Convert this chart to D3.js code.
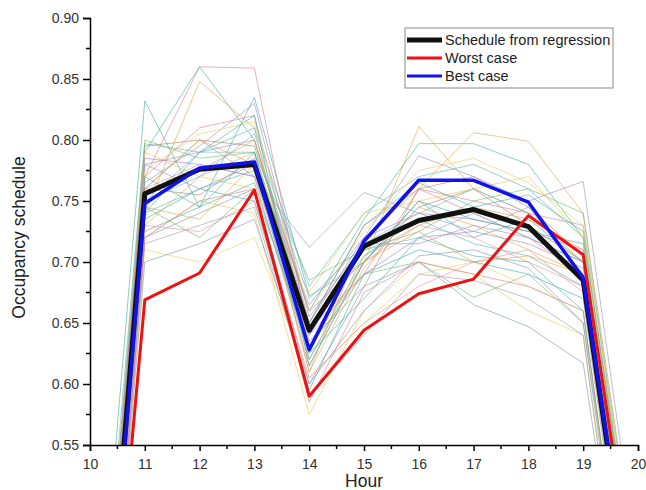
<!DOCTYPE html>
<html>
<head>
<meta charset="utf-8">
<script src="https://cdn.jsdelivr.net/npm/d3@7"></script>
<style>
  html, body { margin: 0; padding: 0; background: #fff; }
  svg { display: block; font-family: "Liberation Sans", Arial, sans-serif; }
</style>
</head>
<body>
<svg id="chart" width="646" height="490"></svg>
<script>
// ---------- data ----------
const hours = [10, 11, 12, 13, 14, 15, 16, 17, 18, 19, 20];
const xTicks = [10, 11, 12, 13, 14, 15, 16, 17, 18, 19, 20];
const yTicks = [0.55, 0.60, 0.65, 0.70, 0.75, 0.80, 0.85, 0.90];

const regression = [0.214, 0.756, 0.776, 0.780, 0.644, 0.713, 0.734, 0.743, 0.729, 0.685, 0.378];
const worstCase  = [0.173, 0.669, 0.691, 0.759, 0.590, 0.644, 0.674, 0.686, 0.738, 0.706, 0.412];
const bestCase   = [0.199, 0.748, 0.777, 0.782, 0.628, 0.717, 0.767, 0.767, 0.749, 0.687, 0.383];

const samples = [
  [0.30,0.832,0.745,0.835,0.672,0.700,0.750,0.720,0.735,0.700,0.38],
  [0.18,0.770,0.860,0.859,0.640,0.690,0.760,0.740,0.720,0.690,0.40],
  [0.22,0.790,0.860,0.800,0.660,0.735,0.797,0.797,0.780,0.720,0.42],
  [0.20,0.740,0.848,0.810,0.620,0.700,0.811,0.760,0.740,0.700,0.36],
  [0.25,0.760,0.800,0.770,0.712,0.757,0.740,0.725,0.745,0.690,0.40],
  [0.15,0.720,0.750,0.740,0.575,0.660,0.700,0.690,0.660,0.640,0.30],
  [0.19,0.730,0.770,0.790,0.610,0.720,0.760,0.806,0.799,0.740,0.42],
  [0.24,0.780,0.790,0.800,0.650,0.720,0.787,0.770,0.750,0.766,0.45],
  [0.17,0.720,0.740,0.760,0.600,0.680,0.700,0.665,0.647,0.617,0.32],
  [0.21,0.745,0.720,0.760,0.630,0.690,0.700,0.671,0.690,0.650,0.34],
  [0.26,0.797,0.790,0.810,0.680,0.740,0.770,0.780,0.760,0.720,0.43],
  [0.23,0.795,0.800,0.795,0.660,0.700,0.745,0.760,0.730,0.700,0.40],
  [0.16,0.710,0.700,0.720,0.605,0.650,0.690,0.700,0.680,0.660,0.33],
  [0.20,0.760,0.780,0.770,0.615,0.700,0.730,0.720,0.700,0.680,0.37],
  [0.22,0.750,0.790,0.790,0.640,0.710,0.720,0.740,0.720,0.700,0.40],
  [0.27,0.780,0.760,0.780,0.665,0.720,0.740,0.735,0.725,0.710,0.41],
  [0.18,0.735,0.760,0.750,0.595,0.690,0.710,0.700,0.690,0.670,0.35],
  [0.24,0.770,0.810,0.820,0.650,0.730,0.760,0.750,0.740,0.730,0.44],
  [0.19,0.725,0.745,0.765,0.625,0.670,0.720,0.705,0.700,0.660,0.33],
  [0.21,0.755,0.775,0.800,0.645,0.705,0.730,0.745,0.735,0.710,0.39],
  [0.17,0.715,0.730,0.745,0.590,0.640,0.690,0.685,0.670,0.640,0.31],
  [0.25,0.790,0.770,0.760,0.675,0.740,0.750,0.760,0.770,0.720,0.42],
  [0.20,0.745,0.735,0.780,0.610,0.695,0.745,0.730,0.710,0.690,0.37],
  [0.23,0.765,0.795,0.830,0.655,0.715,0.715,0.730,0.720,0.700,0.40],
  [0.16,0.700,0.715,0.735,0.600,0.660,0.705,0.710,0.695,0.650,0.32],
  [0.28,0.800,0.785,0.790,0.685,0.710,0.725,0.750,0.760,0.740,0.44],
  [0.19,0.740,0.760,0.775,0.620,0.705,0.735,0.715,0.705,0.680,0.36],
  [0.22,0.760,0.755,0.785,0.635,0.680,0.760,0.770,0.745,0.705,0.40],
  [0.24,0.775,0.805,0.815,0.660,0.725,0.775,0.785,0.765,0.730,0.43],
  [0.18,0.730,0.725,0.750,0.605,0.650,0.680,0.700,0.710,0.675,0.35],
  [0.21,0.750,0.770,0.805,0.670,0.715,0.740,0.760,0.740,0.705,0.40],
  [0.26,0.785,0.780,0.770,0.645,0.690,0.720,0.725,0.715,0.695,0.41],
  [0.20,0.740,0.790,0.820,0.615,0.700,0.750,0.735,0.725,0.715,0.39],
  [0.17,0.720,0.750,0.760,0.585,0.675,0.700,0.690,0.680,0.660,0.33],
  [0.23,0.770,0.745,0.790,0.650,0.730,0.765,0.745,0.755,0.725,0.42],
  [0.22,0.760,0.800,0.780,0.630,0.700,0.725,0.700,0.705,0.690,0.38]
];
const sampleColors = ["#3fa9a9", "#e07a8c", "#3fb0a0", "#e0a040", "#9a9aa8",
                      "#e8c840", "#d8a850", "#9a8cb8", "#8090b0", "#70b870",
                      "#50b8b8", "#b08060", "#e8d060", "#e890a0", "#70b0d8",
                      "#a080c8"];

const legendLabels = ["Schedule from regression", "Worst case", "Best case"];

// ---------- layout ----------
const svg = d3.select("#chart");
const L = 90, R = 638, T = 18, B = 445;
const x = d3.scaleLinear().domain([10, 20]).range([L, R]);
const y = d3.scaleLinear().domain([0.55, 0.90]).range([B, T]);

svg.append("defs").append("clipPath").attr("id", "plotclip")
  .append("rect").attr("x", L).attr("y", T).attr("width", R - L).attr("height", B - T);

const line = d3.line().x((d, i) => x(hours[i])).y(d => y(d));
const plot = svg.append("g").attr("clip-path", "url(#plotclip)");

plot.selectAll("path.sample").data(samples).enter().append("path")
  .attr("class", "sample")
  .attr("d", line)
  .attr("fill", "none")
  .attr("stroke", (d, i) => sampleColors[i % sampleColors.length])
  .attr("stroke-opacity", 0.6)
  .attr("stroke-width", 1);

const mains = [
  { vals: regression, color: "#111111", w: 5 },
  { vals: worstCase, color: "#ee1111", w: 3 },
  { vals: bestCase, color: "#1111ee", w: 3.5 }
];
plot.selectAll("path.main").data(mains).enter().append("path")
  .attr("class", "main")
  .attr("d", d => line(d.vals))
  .attr("fill", "none")
  .attr("stroke", d => d.color)
  .attr("stroke-width", d => d.w)
  .attr("stroke-linejoin", "round");

// ---------- axes ----------
const yAxis = d3.axisLeft(y).tickValues(yTicks).tickFormat(d3.format(".2f"))
  .tickSize(7).tickPadding(4);
const gy = svg.append("g").attr("transform", `translate(${L},0)`).call(yAxis);
gy.select(".domain").attr("stroke", "#000").attr("stroke-width", 1.5);
gy.selectAll(".tick line").attr("stroke", "#000").attr("stroke-width", 1.5);
gy.selectAll(".tick text").attr("font-size", 14).attr("fill", "#333")
  .attr("font-family", "'Liberation Sans', Arial, sans-serif");
const yMinor = d3.range(0, yTicks.length - 1).map(i => (yTicks[i] + yTicks[i + 1]) / 2);
gy.selectAll("line.minor").data(yMinor).enter().append("line")
  .attr("x1", -4).attr("x2", 0).attr("y1", d => y(d)).attr("y2", d => y(d))
  .attr("stroke", "#000").attr("stroke-width", 1.5);

const xAxis = d3.axisBottom(x).tickValues(xTicks).tickFormat(d3.format("d"))
  .tickSize(6).tickPadding(8);
const gx = svg.append("g").attr("transform", `translate(0,${B})`).call(xAxis);
gx.select(".domain").attr("stroke", "#000").attr("stroke-width", 1.5);
gx.selectAll(".tick line").attr("stroke", "#000").attr("stroke-width", 1.5);
gx.selectAll(".tick text").attr("font-size", 14).attr("fill", "#333")
  .attr("font-family", "'Liberation Sans', Arial, sans-serif");
const xMinor = d3.range(0, xTicks.length - 1).map(i => (xTicks[i] + xTicks[i + 1]) / 2);
gx.selectAll("line.minor").data(xMinor).enter().append("line")
  .attr("x1", d => x(d)).attr("x2", d => x(d)).attr("y1", 0).attr("y2", 4)
  .attr("stroke", "#000").attr("stroke-width", 1.5);

// axis titles
svg.append("text").attr("x", (L + R) / 2).attr("y", 487)
  .attr("text-anchor", "middle").attr("font-size", 17.5).attr("fill", "#222")
  .text("Hour");
svg.append("text")
  .attr("transform", `translate(25,${(T + B) / 2 + 6}) rotate(-90)`)
  .attr("text-anchor", "middle").attr("font-size", 17.5).attr("fill", "#222")
  .text("Occupancy schedule");

// ---------- legend ----------
const lg = svg.append("g");
lg.append("rect").attr("x", 405).attr("y", 28).attr("width", 208).attr("height", 60)
  .attr("fill", "#fff").attr("stroke", "#888").attr("stroke-width", 1);
const rowsY = [40, 58, 76];
legendLabels.forEach((lab, i) => {
  lg.append("line").attr("x1", 407).attr("x2", 442)
    .attr("y1", rowsY[i]).attr("y2", rowsY[i])
    .attr("stroke", mains[i].color).attr("stroke-width", i === 0 ? 5 : 3);
  lg.append("text").attr("x", 445).attr("y", rowsY[i] + 5)
    .attr("font-size", 14.5).attr("fill", "#222").text(lab);
});
</script>
</body>
</html>
